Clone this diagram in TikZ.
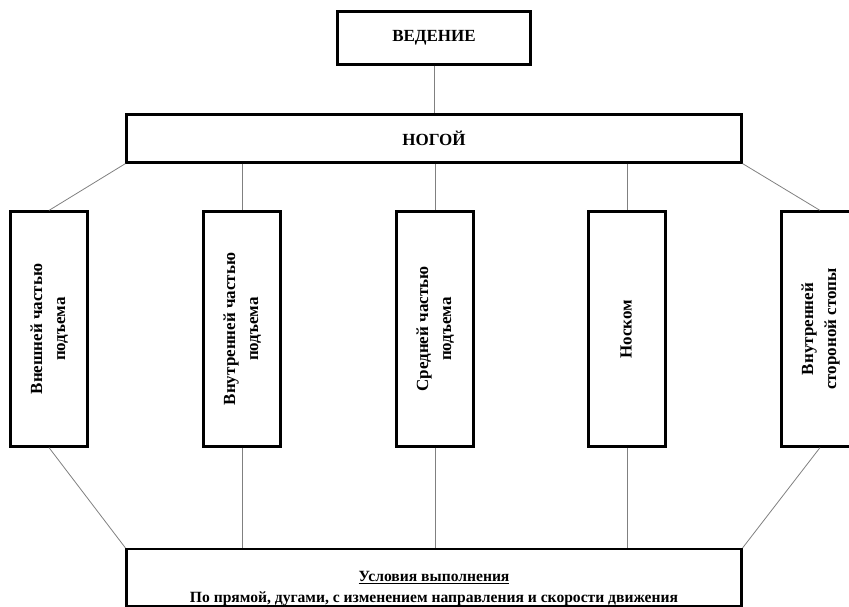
\documentclass[tikz,border=0pt]{standalone}
\usepackage{fontspec}
\setmainfont{Liberation Serif}
\tikzstyle{every node}=[font=\bfseries\fontsize{17}{23}\selectfont]
\tikzstyle{box}=[draw=black,line width=2.2pt,inner sep=0pt,align=center]
\tikzstyle{link}=[draw=gray,line width=0.8pt]
\newcommand{\vlabel}[1]{\rotatebox{90}{\begin{tabular}{@{}c@{}}#1\end{tabular}}}

\begin{document}
\begin{tikzpicture}[x=1pt, y=-1pt]
	\useasboundingbox (0,0) rectangle (849,607);
	\node[box, minimum width=193pt, minimum height=53pt] (ved) at (434,38) {ВЕДЕНИЕ};
	\node[box, minimum width=615pt, minimum height=48pt] (nog) at (434,138.5) {НОГОЙ};
	\node[box, minimum width=77pt, minimum height=235pt] (b1) at (49,329) {\vlabel{Внешней частью\\подъема}};
	\node[box, minimum width=77pt, minimum height=235pt] (b2) at (242,329) {\vlabel{Внутренней частью\\подъема}};
	\node[box, minimum width=77pt, minimum height=235pt] (b3) at (435,329) {\vlabel{Средней частью\\подъема}};
	\node[box, minimum width=77pt, minimum height=235pt] (b4) at (627,329) {\vlabel{Носком}};
	\node[box, minimum width=77pt, minimum height=235pt] (b5) at (820,329) {\vlabel{Внутренней\\стороной стопы}};
	\node[box, minimum width=615pt, minimum height=57pt] (usl) at (434,577.5) {};
	\node[align=center, font=\bfseries\fontsize{15.6}{21}\selectfont] (usltxt) at (434,589) {\underline{Условия выполнения}\\По прямой, дугами, с изменением направления и скорости движения};
	% links
	\draw[link] (ved) -- (nog);
	\draw[link] (nog.south west) -- (b1.north);
	\draw[link] (b2.north |- nog.south) -- (b2.north);
	\draw[link] (b3.north |- nog.south) -- (b3.north);
	\draw[link] (b4.north |- nog.south) -- (b4.north);
	\draw[link] (nog.south east) -- (b5.north);
	\draw[link] (b1.south) -- (usl.north west);
	\draw[link] (b2.south) -- (b2.south |- usl.north);
	\draw[link] (b3.south) -- (b3.south |- usl.north);
	\draw[link] (b4.south) -- (b4.south |- usl.north);
	\draw[link] (b5.south) -- (usl.north east);
\end{tikzpicture}
\end{document}
